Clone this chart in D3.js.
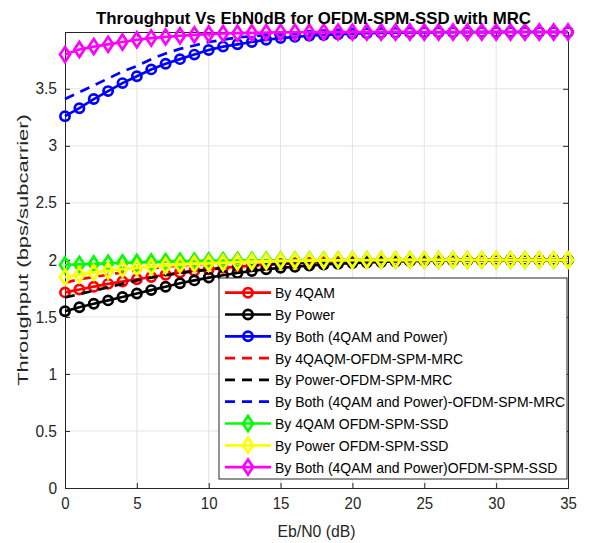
<!DOCTYPE html>
<html><head><meta charset="utf-8">
<script src="https://cdn.jsdelivr.net/npm/d3@7"></script>
<style>body{margin:0;background:#fff}svg{display:block}text{font-family:"Liberation Sans",Arial,sans-serif}</style>
</head><body><div id="chart"></div>
<script>
const ebn0 = d3.range(0, 36);
const by4qam      = [1.715,1.74,1.765,1.79,1.81,1.83,1.85,1.87,1.89,1.905,1.918,1.93,1.94,1.95,1.958,1.965,1.97,1.975,1.98,1.984,1.987,1.99,1.992,1.994,1.995,1.996,1.997,1.997,1.998,1.998,1.998,1.999,1.999,1.999,1.999,1.999];
const byPower     = [1.55,1.585,1.615,1.645,1.675,1.705,1.735,1.765,1.795,1.82,1.845,1.865,1.885,1.903,1.918,1.93,1.94,1.95,1.96,1.966,1.972,1.977,1.982,1.986,1.989,1.991,1.993,1.995,1.996,1.997,1.998,1.998,1.999,1.999,1.999,1.999];
const byBoth      = [3.26,3.33,3.41,3.48,3.55,3.61,3.67,3.72,3.76,3.80,3.84,3.87,3.89,3.91,3.93,3.945,3.955,3.965,3.972,3.978,3.983,3.987,3.99,3.992,3.994,3.995,3.996,3.996,3.997,3.997,3.997,3.998,3.998,3.998,3.998,3.998];
const by4qamMrc   = [1.80,1.83,1.85,1.87,1.89,1.91,1.925,1.94,1.95,1.96,1.968,1.975,1.98,1.985,1.988,1.991,1.993,1.995,1.996,1.997,1.998,1.998,1.999,1.999,1.999,1.999,1.999,1.999,1.999,1.999,1.999,1.999,1.999,1.999,1.999,1.999];
const byPowerMrc  = [1.67,1.70,1.73,1.76,1.79,1.82,1.845,1.865,1.885,1.90,1.915,1.93,1.94,1.95,1.96,1.968,1.975,1.98,1.985,1.988,1.991,1.993,1.995,1.996,1.997,1.998,1.998,1.999,1.999,1.999,1.999,1.999,1.999,1.999,1.999,1.999];
const byBothMrc   = [3.41,3.47,3.53,3.59,3.65,3.70,3.76,3.81,3.85,3.88,3.91,3.93,3.95,3.96,3.97,3.978,3.984,3.988,3.991,3.993,3.995,3.996,3.997,3.997,3.998,3.998,3.998,3.998,3.998,3.998,3.998,3.998,3.998,3.998,3.998,3.998];
const by4qamSsd   = [1.955,1.96,1.965,1.97,1.974,1.978,1.981,1.984,1.987,1.989,1.991,1.993,1.994,1.995,1.996,1.997,1.997,1.998,1.998,1.998,1.999,1.999,1.999,1.999,1.999,1.999,1.999,1.999,1.999,1.999,1.999,1.999,1.999,1.999,1.999,1.999];
const byPowerSsd  = [1.85,1.87,1.89,1.905,1.92,1.93,1.94,1.95,1.958,1.965,1.97,1.975,1.98,1.984,1.987,1.99,1.992,1.994,1.995,1.996,1.997,1.997,1.998,1.998,1.998,1.999,1.999,1.999,1.999,1.999,1.999,1.999,1.999,1.999,1.999,1.999];
const byBothSsd   = [3.80,3.845,3.87,3.89,3.91,3.93,3.945,3.955,3.965,3.973,3.98,3.985,3.988,3.991,3.993,3.995,3.996,3.996,3.997,3.997,3.997,3.998,3.998,3.998,3.998,3.998,3.998,3.998,3.998,3.998,3.998,3.998,3.998,3.998,3.998,3.998];
const xTicks = [0,5,10,15,20,25,30,35];
const yTicks = [0,0.5,1,1.5,2,2.5,3,3.5];
const seriesNames = ["By 4QAM","By Power","By Both (4QAM and Power)","By 4QAQM-OFDM-SPM-MRC","By Power-OFDM-SPM-MRC","By Both (4QAM and Power)-OFDM-SPM-MRC","By 4QAM OFDM-SPM-SSD","By Power OFDM-SPM-SSD","By Both (4QAM and Power)OFDM-SPM-SSD"];
const seriesData = [by4qam, byPower, byBoth, by4qamMrc, byPowerMrc, byBothMrc, by4qamSsd, byPowerSsd, byBothSsd];
const seriesColors = ["#ff0000","#000000","#0000ff","#ff0000","#000000","#0000ff","#00ff00","#ffff00","#ff00ff"];
const seriesStyle = ["o","o","o","--","--","--","d","d","d"];

const W = 590, H = 543;
const L = 65, R = 568, T = 32, B = 488;
const svg = d3.select("#chart").append("svg").attr("width", W).attr("height", H);
const x = d3.scaleLinear().domain([0, 35]).range([L, R]);
const y = d3.scaleLinear().domain([0, 3.998]).range([B, T]);
const axisCol = "#262626";
const FONT = "'Liberation Sans',Arial,sans-serif";

function condensed(sel, size, widthSize) {
  sel.each(function () {
    const t = d3.select(this);
    t.style("font-size", widthSize + "px");
    const w = this.getComputedTextLength();
    t.style("font-size", size + "px").attr("textLength", w).attr("lengthAdjust", "spacingAndGlyphs");
  });
}

// grid
const g = svg.append("g");
g.selectAll(".gx").data(xTicks.slice(1, -1)).join("line")
  .attr("x1", d => x(d)).attr("x2", d => x(d)).attr("y1", T).attr("y2", B)
  .attr("stroke", "#e3e3e3").attr("stroke-width", 1);
g.selectAll(".gy").data(yTicks.slice(1)).join("line")
  .attr("y1", d => y(d)).attr("y2", d => y(d)).attr("x1", L).attr("x2", R)
  .attr("stroke", "#e3e3e3").attr("stroke-width", 1);

// axes
const xAxis = d3.axisBottom(x).tickValues(xTicks).tickSize(-5).tickPadding(10).tickFormat(d3.format("d"));
const yAxis = d3.axisLeft(y).tickValues(yTicks).tickSize(-5).tickPadding(8).tickFormat(d => String(d));
const gx = svg.append("g").attr("transform", `translate(0,${B})`).call(xAxis);
const gy = svg.append("g").attr("transform", `translate(${L},0)`).call(yAxis);
const gx2 = svg.append("g").attr("transform", `translate(0,${T})`).call(d3.axisTop(x).tickValues(xTicks).tickSize(-5).tickFormat(""));
const gy2 = svg.append("g").attr("transform", `translate(${R},0)`).call(d3.axisRight(y).tickValues(yTicks).tickSize(-5).tickFormat(""));
[gx, gy, gx2, gy2].forEach(a => {
  a.selectAll("path").attr("stroke", axisCol).attr("stroke-width", 1);
  a.selectAll("line").attr("stroke", axisCol).attr("stroke-width", 1);
  a.selectAll("text").attr("fill", axisCol).style("font-family", FONT);
});
condensed(gx.selectAll("text"), 16, 15);
condensed(gy.selectAll("text"), 16, 15.5);

// lines
const line = d3.line().x((d, i) => x(ebn0[i])).y(d => y(d));
const plot = svg.append("g");
function diamondPath(cx, cy, hw, hh) {
  return `M${cx},${cy - hh}L${cx + hw},${cy}L${cx},${cy + hh}L${cx - hw},${cy}Z`;
}
seriesData.forEach((data, k) => {
  const col = seriesColors[k], st = seriesStyle[k];
  const sg = plot.append("g");
  sg.append("path").datum(data).attr("d", line).attr("fill", "none")
    .attr("stroke", col).attr("stroke-width", 2.7)
    .attr("stroke-dasharray", st === "--" ? "10,7" : null);
  if (st === "o") {
    sg.selectAll("circle").data(data).join("circle")
      .attr("cx", (d, i) => x(ebn0[i])).attr("cy", d => y(d)).attr("r", 4.6)
      .attr("fill", "none").attr("stroke", col).attr("stroke-width", 2.7);
  } else if (st === "d") {
    sg.selectAll("path.m").data(data).join("path").attr("class", "m")
      .attr("d", (d, i) => diamondPath(x(ebn0[i]), y(d), 5, 7.5))
      .attr("fill", "none").attr("stroke", col).attr("stroke-width", 2.7);
  }
});

// title & labels
svg.append("text").attr("x", (L + R) / 2 - 3).attr("y", 23.5).attr("text-anchor", "middle")
  .style("font-size", "17px").style("font-weight", "bold").attr("fill", "#000")
  .attr("textLength", 435).attr("lengthAdjust", "spacingAndGlyphs")
  .text("Throughput Vs EbN0dB for OFDM-SPM-SSD with MRC");
svg.append("text").attr("x", (L + R) / 2).attr("y", 537).attr("text-anchor", "middle")
  .style("font-size", "17px").attr("fill", axisCol)
  .attr("textLength", 78).attr("lengthAdjust", "spacingAndGlyphs").text("Eb/N0 (dB)");
const yl = svg.append("text").attr("text-anchor", "middle")
  .style("font-size", "14.5px").attr("fill", axisCol).text("Throughput (bps/subcarrier)");
const ylLen = yl.node().getComputedTextLength();
yl.attr("transform", `translate(28,${(T + B) / 2 - 10}) rotate(-90) scale(${272 / ylLen},1)`);

// legend
const lgX = 219, lgY = 278, lgW = 348, lgH = 201, rowH = 21.8, row0 = 292.7;
const lg = svg.append("g");
lg.append("rect").attr("x", lgX).attr("y", lgY).attr("width", lgW).attr("height", lgH)
  .attr("fill", "#fff").attr("stroke", axisCol).attr("stroke-width", 1);
seriesNames.forEach((name, k) => {
  const cy = row0 + k * rowH, col = seriesColors[k], st = seriesStyle[k];
  lg.append("line").attr("x1", 225).attr("x2", 271).attr("y1", cy).attr("y2", cy)
    .attr("stroke", col).attr("stroke-width", 2.7).attr("stroke-dasharray", st === "--" ? "10,7" : null);
  if (st === "o") lg.append("circle").attr("cx", 248).attr("cy", cy).attr("r", 4.6)
    .attr("fill", "none").attr("stroke", col).attr("stroke-width", 2.7);
  if (st === "d") lg.append("path").attr("d", diamondPath(248, cy, 5, 7.5))
    .attr("fill", "none").attr("stroke", col).attr("stroke-width", 2.7);
  const t = lg.append("text").attr("x", 275).attr("y", cy + 5.5).attr("fill", "#000").text(name);
  condensed(t, 15, 14);
});
</script></body></html>
